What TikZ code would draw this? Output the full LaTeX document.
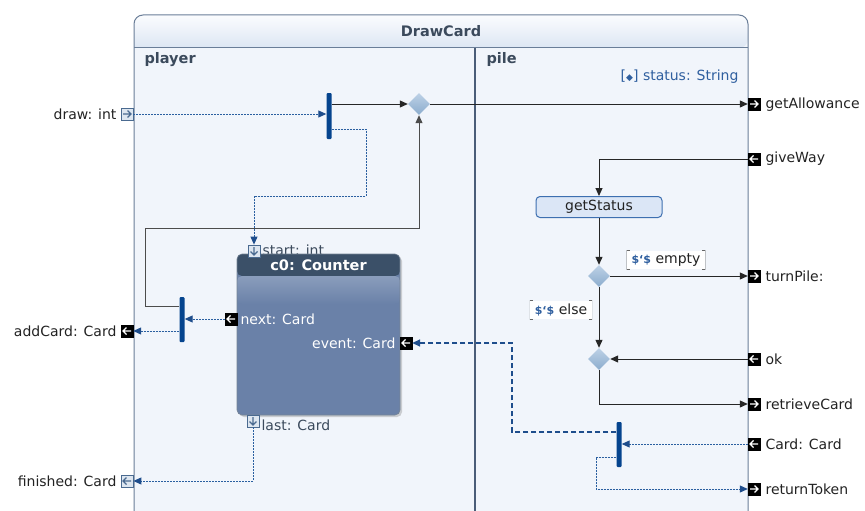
\documentclass[tikz,border=0pt]{standalone}
\usepackage{fontspec}
\setmainfont{DejaVu Sans}
\usetikzlibrary{arrows.meta,shapes.geometric,shadows,calc}
\definecolor{bgc}{HTML}{F1F5FB}
\definecolor{hdrtop}{HTML}{FBFCFE}
\definecolor{hdrbot}{HTML}{DCE6F3}
\definecolor{framec}{HTML}{6A7E98}
\definecolor{lanec}{HTML}{4A5D78}
\definecolor{barc}{HTML}{05448E}
\definecolor{dblue}{HTML}{2A5FA0}
\definecolor{tblue}{HTML}{1E4D8C}
\definecolor{ttl}{HTML}{3B4A5C}
\definecolor{stat}{HTML}{2F5F9F}
\definecolor{cnthdr}{HTML}{3B5068}
\definecolor{cntband}{HTML}{8A9DBC}
\definecolor{cntbody}{HTML}{6A81A8}
\definecolor{gsfill}{HTML}{DBE6F6}
\definecolor{gsdraw}{HTML}{3D6FB0}
\definecolor{outport}{HTML}{DDE6F0}
\definecolor{outportd}{HTML}{4A6A90}
\definecolor{lbl}{HTML}{222222}
\definecolor{diatop}{HTML}{BDD1E6}
\definecolor{diabot}{HTML}{8BACCD}
\tikzset{
  x=1pt,y=-1pt,
  every node/.style={font=\fontsize{14}{16}\selectfont, text=lbl},
  boldlbl/.style={font=\fontsize{14.5}{16}\selectfont\bfseries},
  flow/.style={draw=black!85, line width=1pt, -{Triangle[length=8pt,width=7pt]}},
  dflow/.style={draw=dblue, line width=1pt, dash pattern=on 2pt off 1pt, -{Triangle[length=8pt,width=7pt,color=tblue,fill=tblue]}},
  tflow/.style={draw=tblue, line width=1.6pt, dash pattern=on 5pt off 3pt, -{Triangle[length=8pt,width=7pt]}},
  syncbar/.style={fill=barc, draw=none, minimum width=5pt, minimum height=46pt, inner sep=0pt, rounded corners=1pt},
  diam/.style={diamond, shape aspect=1, minimum width=22pt, minimum height=22pt, inner sep=0pt, top color=diatop, bottom color=diabot, draw=none},
  portbox/.style={rectangle, minimum size=12pt, inner sep=0pt},
  pblack/.style={portbox, fill=black, draw=black},
  pout/.style={portbox, fill=outport, draw=outportd, line width=0.8pt},
  arR/.style={path picture={\draw[#1,line width=1.1pt] ([xshift=-4pt]path picture bounding box.center) -- ([xshift=4pt]path picture bounding box.center) ([shift={(0.5pt,3.5pt)}]path picture bounding box.center) -- ([xshift=4pt]path picture bounding box.center) -- ([shift={(0.5pt,-3.5pt)}]path picture bounding box.center);}},
  arL/.style={path picture={\draw[#1,line width=1.1pt] ([xshift=4pt]path picture bounding box.center) -- ([xshift=-4pt]path picture bounding box.center) ([shift={(-0.5pt,3.5pt)}]path picture bounding box.center) -- ([xshift=-4pt]path picture bounding box.center) -- ([shift={(-0.5pt,-3.5pt)}]path picture bounding box.center);}},
  arD/.style={path picture={\draw[#1,line width=1.1pt] ([yshift=4pt]path picture bounding box.center) -- ([yshift=-4pt]path picture bounding box.center) ([shift={(-3.5pt,-0.5pt)}]path picture bounding box.center) -- ([yshift=-4pt]path picture bounding box.center) -- ([shift={(3.5pt,-0.5pt)}]path picture bounding box.center);}},
  guard/.style={fill=white, inner xsep=5pt, inner ysep=3pt, path picture={\draw[black!60,line width=0.9pt] ([xshift=3pt]path picture bounding box.north west) -- (path picture bounding box.north west) -- (path picture bounding box.south west) -- ([xshift=3pt]path picture bounding box.south west) ([xshift=-3pt]path picture bounding box.north east) -- (path picture bounding box.north east) -- (path picture bounding box.south east) -- ([xshift=-3pt]path picture bounding box.south east);}},
}
\newcommand{\dol}{{\color{stat}\fontsize{11}{12}\selectfont\bfseries\$‘\$}}
\begin{document}
\begin{tikzpicture}
\useasboundingbox (0,0) rectangle (865,511);
\begin{scope}
\clip (0,0) rectangle (865,511);
% frame
\fill[bgc, rounded corners=9pt] (134,530) -- (134,15) -- (748,15) -- (748,530) -- cycle;
\shade[top color=hdrtop, bottom color=hdrbot, rounded corners=9pt] (134,48) -- (134,15) -- (748,15) -- (748,48) {[sharp corners] -- cycle};
\draw[framec, line width=1pt, rounded corners=9pt] (134,530) -- (134,15) -- (748,15) -- (748,530);
\draw[framec, line width=1pt] (134,48) -- (748,48);
\draw[lanec, line width=1.5pt] (475,48) -- (475,530);
\end{scope}
\node[boldlbl, text=ttl] (title) at (441,31) {DrawCard};
\node[boldlbl, text=ttl, anchor=west] (lplayer) at (141,60) {player};
\node[boldlbl, text=ttl, anchor=west] (lpile) at (483,60) {pile};
\node[text=stat, anchor=east] (status) at (742,77) {[{\fontsize{9}{10}\selectfont◆}] status: String};

% left ports
\node[pout, arR=outportd] (pDraw) at (127,114) {};
\node[anchor=east] (lDraw) at (120,114) {draw: int};
\node[pblack, arL=white] (pAdd) at (127,331) {};
\node[anchor=east] (lAdd) at (120,331) {addCard: Card};
\node[pout, arL=outportd] (pFin) at (127,481) {};
\node[anchor=east] (lFin) at (120,481) {finished: Card};

% right ports
\node[pblack, arR=white] (pAllow) at (754,104) {};
\node[anchor=west] (lAllow) at (762,105) {getAllowance};
\node[pblack, arL=white] (pGive) at (754,159) {};
\node[anchor=west] (lGive) at (762,159) {giveWay};
\node[pblack, arR=white] (pTurn) at (754,276) {};
\node[anchor=west] (lTurn) at (762,276) {turnPile:};
\node[pblack, arL=white] (pOk) at (754,359) {};
\node[anchor=west] (lOk) at (762,359) {ok};
\node[pblack, arR=white] (pRet) at (754,404) {};
\node[anchor=west] (lRet) at (762,404) {retrieveCard};
\node[pblack, arL=white] (pCard) at (754,444) {};
\node[anchor=west] (lCard) at (762,444) {Card: Card};
\node[pblack, arR=white] (pTok) at (754,489) {};
\node[anchor=west] (lTok) at (762,489) {returnToken};

% player lane
\node[syncbar] (b1) at (329,116) {};
\node[diam] (d1) at (419,104) {};
\node[syncbar, minimum height=45pt] (b2) at (182,319.5) {};

% counter ports labels (behind counter)
\node[anchor=west, text=ttl] (lStart) at (259,250) {start: int};
\node[anchor=west, text=ttl] (lLast) at (258,425) {last: Card};

\node[rectangle, rounded corners=5pt, minimum width=163pt, minimum height=161pt, inner sep=0pt,
  fill=cntbody, draw=cnthdr!70, line width=0.6pt,
  drop shadow={shadow xshift=2pt, shadow yshift=-2pt, opacity=.35},
  path picture={\fill[cnthdr] (path picture bounding box.north west) rectangle ([yshift=-22pt]path picture bounding box.north east);
  \shade[top color=cntband, bottom color=cntbody] ([yshift=-22pt]path picture bounding box.north west) rectangle ([yshift=-50pt]path picture bounding box.north east);}]
  (cnt) at (318.5,334.5) {};
\node[boldlbl, text=white] (cntT) at (318.5,265) {c0: Counter};

\node[pout, arD=outportd] (pStart) at (254,251) {};
\node[pout, arD=outportd] (pLast) at (253,421) {};
\node[pblack, arL=white] (pNext) at (231,319) {};
\node[anchor=west, text=white] (lNext) at (237,319) {next: Card};
\node[pblack, arL=white] (pEvent) at (406,343) {};
\node[anchor=east, text=white] (lEvent) at (399,343) {event: Card};

% pile lane
\node[rectangle, rounded corners=4pt, minimum width=126pt, minimum height=21pt, inner sep=0pt, fill=gsfill, draw=gsdraw, line width=1pt] (gs) at (599,207) {getStatus};
\node[diam] (d2) at (599,276) {};
\node[diam] (d3) at (599,359) {};
\node[guard] (gEmpty) at (666,260) {\dol\ empty};
\node[guard] (gElse) at (561,310) {\dol\ else};
\node[syncbar, minimum height=45pt] (b3) at (619,444.5) {};

% coordinates for bends
\coordinate (k1) at (366,196);
\coordinate (k2) at (145,228);
\coordinate (k3) at (512,343);
\coordinate (k4) at (596,489);

% connectors player
\draw[dflow] (pDraw.east) -- (b1.west |- pDraw.east);
\draw[flow] (b1.east |- d1.west) -- (d1.west);
\draw[flow] (d1.east) -- (pAllow.west);
\draw[dflow] ([yshift=-13pt]b1.east) -| (k1) -| (pStart.north);
\draw[flow, draw=black!70] ([yshift=13.5pt]b2.west) -| (k2) -| (d1.south);
\draw[dflow] (pNext.west) -- (b2.east |- pNext.west);
\draw[dflow] ([yshift=-11.5pt]b2.west) -- (pAdd.east);
\draw[dflow] (pLast.south) |- (pFin.east);

% connectors pile
\draw[flow] (pGive.west) -| (gs.north);
\draw[flow] (gs.south) -- (d2.north);
\draw[flow] (d2.east) -- (pTurn.west);
\draw[flow] (d2.south) -- (d3.north);
\draw[flow] (pOk.west) -- (d3.east);
\draw[flow] (d3.south) |- (pRet.west);
\draw[dflow] (pCard.west) -- (b3.east |- pCard.west);
\draw[tflow] ([yshift=12.5pt]b3.west) -| (k3) -- (pEvent.east);
\draw[dflow] ([yshift=-12.5pt]b3.west) -| (k4) -- (pTok.west);
\end{tikzpicture}
\end{document}
